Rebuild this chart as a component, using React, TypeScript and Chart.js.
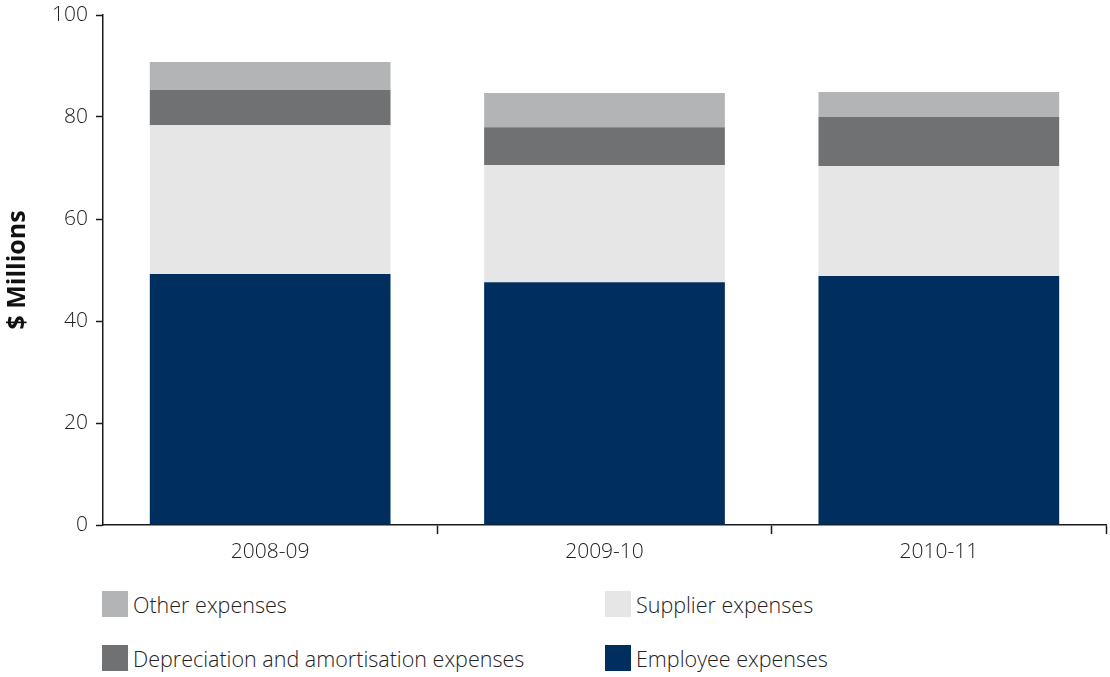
import React, { useEffect, useRef } from "react";
import { Chart, registerables } from "chart.js";

Chart.register(...registerables);

const categories = ["2008-09", "2009-10", "2010-11"];
const employeeExpenses = [49.2, 47.6, 48.8];
const supplierExpenses = [29.2, 23.0, 21.6];
const depreciationExpenses = [6.9, 7.4, 9.6];
const otherExpenses = [5.5, 6.7, 4.9];
const yTicks = [0, 20, 40, 60, 80, 100];

const COLORS = {
  employee: "#002f5f",
  supplier: "#e6e6e6",
  depreciation: "#707173",
  other: "#b3b4b6",
};

const FONT = "'Open Sans', 'Noto Sans', sans-serif";
const TEXT = "#222222";

const legendItems = [
  { label: "Other expenses", color: COLORS.other, x: 102, y: 591 },
  { label: "Supplier expenses", color: COLORS.supplier, x: 605, y: 591 },
  { label: "Depreciation and amortisation expenses", color: COLORS.depreciation, x: 102, y: 645 },
  { label: "Employee expenses", color: COLORS.employee, x: 605, y: 645 },
];

export default function App() {
  const ref = useRef<HTMLCanvasElement | null>(null);

  useEffect(() => {
    if (!ref.current) return;
    const chart = new Chart(ref.current, {
      type: "bar",
      data: {
        labels: categories,
        datasets: [
          { label: "Employee expenses", data: employeeExpenses, backgroundColor: COLORS.employee },
          { label: "Supplier expenses", data: supplierExpenses, backgroundColor: COLORS.supplier },
          { label: "Depreciation and amortisation expenses", data: depreciationExpenses, backgroundColor: COLORS.depreciation },
          { label: "Other expenses", data: otherExpenses, backgroundColor: COLORS.other },
        ],
      },
      options: {
        responsive: false,
        animation: false,
        devicePixelRatio: 1,
        datasets: { bar: { categoryPercentage: 1, barPercentage: 0.72, borderWidth: 0 } },
        layout: { padding: { top: 15, right: 4, left: 0, bottom: 0 } },
        plugins: {
          legend: { display: false },
          tooltip: { enabled: false },
        },
        scales: {
          x: {
            stacked: true,
            offset: true,
            border: { display: true, color: "#1a1a1a", width: 1.5 },
            grid: {
              offset: true,
              drawOnChartArea: false,
              drawTicks: true,
              tickLength: 9,
              tickWidth: 1.5,
              color: (ctx: any) =>
                ctx.index === 0 || ctx.index === categories.length ? "rgba(0,0,0,0)" : "#1a1a1a",
            },
            ticks: {
              color: TEXT,
              font: { family: FONT, size: 21, weight: 300 as any },
              padding: 5,
            },
            afterFit: (s: any) => {
              s.height = 55;
            },
          },
          y: {
            stacked: true,
            min: 0,
            max: 100,
            afterBuildTicks: (s: any) => {
              s.ticks = yTicks.map((v) => ({ value: v }));
            },
            border: { display: true, color: "#1a1a1a", width: 1.5 },
            grid: {
              drawOnChartArea: false,
              drawTicks: true,
              tickLength: 7,
              tickWidth: 1.5,
              color: "#1a1a1a",
            },
            ticks: {
              color: TEXT,
              font: { family: FONT, size: 21, weight: 300 as any },
              padding: 8,
            },
            title: {
              display: true,
              text: "$ Millions",
              color: "#111",
              font: { family: FONT, size: 25, weight: "bold" },
              padding: { top: 3, bottom: 0 },
            },
            afterFit: (s: any) => {
              s.width = 103;
              s.paddingTop = 0;
              s.paddingBottom = 0;
            },
          },
        },
      },
    });
    return () => chart.destroy();
  }, []);

  return (
    <div style={{ position: "absolute", left: 0, top: 0, width: 1110, height: 677, background: "#fff" }}>
      <canvas ref={ref} width={1110} height={580} style={{ position: "absolute", left: 0, top: 0 }} />
      {legendItems.map((it) => (
        <div
          key={it.label}
          style={{
            position: "absolute",
            left: it.x,
            top: it.y,
            height: 26,
            display: "flex",
            alignItems: "center",
            fontFamily: FONT,
            fontWeight: 300,
            fontSize: 21.5,
            color: TEXT,
            whiteSpace: "nowrap",
          }}
        >
          <span style={{ display: "inline-block", width: 26, height: 26, background: it.color, marginRight: 5 }} />
          <span>{it.label}</span>
        </div>
      ))}
    </div>
  );
}
